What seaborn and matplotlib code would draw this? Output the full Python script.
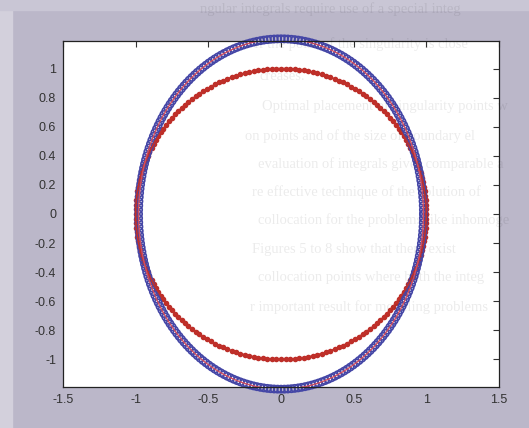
import numpy as np
import pandas as pd
import matplotlib
matplotlib.use("Agg")
import matplotlib.pyplot as plt
import seaborn as sns

# ---- data ----
red_radius_x = 1.0
red_radius_y = 1.0
red_count = 200
blue_radius_x = 0.98
blue_radius_y = 1.205
blue_count = 260
x_ticks = [-1.5, -1, -0.5, 0, 0.5, 1, 1.5]
y_ticks = [-1, -0.8, -0.6, -0.4, -0.2, 0, 0.2, 0.4, 0.6, 0.8, 1]
x_tick_labels = ["-1.5", "-1", "-0.5", "0", "0.5", "1", "1.5"]
y_tick_labels = ["-1", "-0.8", "-0.6", "-0.4", "-0.2", "0", "0.2", "0.4", "0.6", "0.8", "1"]

page_lines = [
    "ngular integrals require use of a special integ",
    "e. If the point of the singularity is close",
    "creases.",
    "Optimal placement of singularity points w",
    "on points and of the size of boundary el",
    "evaluation of integrals gives comparable a",
    "re effective technique of the solution of",
    "collocation for the problems like inhomoge",
    "Figures 5 to 8 show that there exist",
    "collocation points where both the integ",
    "r important result for modeling problems",
]

t_red = np.linspace(0, 2 * np.pi, red_count + 1)
t_blue = np.linspace(0, 2 * np.pi, blue_count + 1)
red = pd.DataFrame({"x": red_radius_x * np.cos(t_red), "y": red_radius_y * np.sin(t_red)})
blue = pd.DataFrame({"x": blue_radius_x * np.cos(t_blue), "y": blue_radius_y * np.sin(t_blue)})

sns.set_theme(style="white")
plt.rcParams["font.family"] = ["Liberation Sans", "DejaVu Sans"]

fig = plt.figure(figsize=(5.29, 4.28), dpi=100)
fig.patch.set_facecolor("#bbb7c9")
# lighter scan strips at left and top
fig.patches.append(plt.Rectangle((0, 0), 12 / 529, 1, transform=fig.transFigure,
                                 color="#d3d0dc", zorder=0))
fig.patches.append(plt.Rectangle((0, 1 - 10 / 428), 1, 10 / 428, transform=fig.transFigure,
                                 color="#c9c6d5", zorder=0))

ax = fig.add_axes([63 / 529, 41 / 428, 436 / 529, 346 / 428])
ax.set_facecolor("white")

sns.lineplot(data=red, x="x", y="y", sort=False, estimator=None, ax=ax,
             color="#c0302a", lw=1.2, legend=False)
sns.scatterplot(data=red, x="x", y="y", ax=ax, color="#bd2e28", s=16, linewidth=0, legend=False)
sns.lineplot(data=blue, x="x", y="y", sort=False, estimator=None, ax=ax,
             color="#d05060", lw=1.0, legend=False)
sns.scatterplot(data=blue, x="x", y="y", ax=ax, facecolor="none", edgecolor="#4446a6",
                marker="o", s=27, linewidth=1.2, legend=False, clip_on=False)

ax.set_xlim(-1.5, 1.5)
ax.set_ylim(-1.19, 1.19)
ax.set_xticks(x_ticks)
ax.set_xticklabels(x_tick_labels)
ax.set_yticks(y_ticks)
ax.set_yticklabels(y_tick_labels)
ax.set_xlabel("")
ax.set_ylabel("")
ax.tick_params(direction="in", length=4, width=0.8, top=True, right=True,
               labelsize=9, colors="#333333", pad=5)
for s in ax.spines.values():
    s.set_visible(True)
    s.set_color("#222222")
    s.set_linewidth(0.9)

# faint page text showing through the scan
line_y = [9, 44, 76, 106, 136, 164, 192, 220, 249, 278, 307]
line_x = [200, 240, 260, 262, 245, 258, 252, 258, 252, 258, 250]
for txt, yy, xx in zip(page_lines, line_y, line_x):
    fig.text(xx / 529, 1 - yy / 428, txt, family=["Liberation Serif", "DejaVu Serif"],
             fontsize=10.5, color="black", alpha=0.08, va="center", ha="left", zorder=10)

fig.savefig("out.png", dpi=100, facecolor=fig.get_facecolor())
